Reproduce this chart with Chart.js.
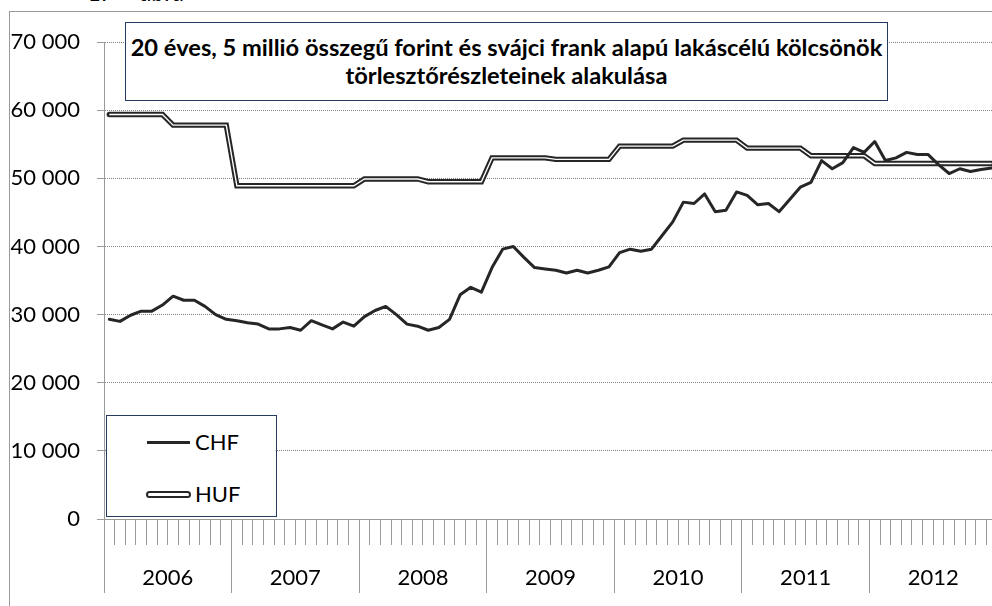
<!DOCTYPE html>
<html>
<head>
<meta charset="utf-8">
<script src="https://cdn.jsdelivr.net/npm/chart.js@4/dist/chart.umd.min.js"></script>
<style>
  html, body { margin:0; padding:0; background:#fff; overflow:hidden; width:992px; height:606px; }
  #wrap { position:relative; width:992px; height:606px; overflow:hidden; }
  #frame { position:absolute; left:9px; top:11px; width:1100px; height:700px; border-left:1px solid #9a9a9a; border-top:1px solid #9a9a9a; }
  #cv { position:absolute; left:0; top:0; }
  #fig { position:absolute; top:-20px; left:0; font-family:Lato; font-style:italic; font-size:24px; line-height:24px; color:#000; white-space:pre; }
  #fig span { position:absolute; top:0; }
  #title { position:absolute; left:125px; top:22px; width:761px; height:67px; border:1.5px solid #243a5e; background:#fff;
           font-family:Lato; font-weight:bold; color:#000; text-align:center; line-height:28px; padding-top:10px; box-sizing:content-box; white-space:nowrap; }
  #legend { position:absolute; left:106px; top:415px; width:169px; height:100px; border:1.5px solid #243a5e; background:#fff; }
  .li { position:absolute; left:0; width:169px; height:0; }
  .sw { position:absolute; left:40px; width:43px; }
  .lt { position:absolute; left:88px; font-family:Lato; font-size:22px; line-height:26px; top:-13px; color:#000; }
</style>
</head>
<body>
<div id="wrap">
  <div id="frame"></div>
  <div id="fig"><span style="left:88px">1.</span><span style="left:140px">ábra</span></div>
  <canvas id="cv" width="1000" height="606"></canvas>
  <div id="title"><div id="t1"></div><div id="t2"></div></div>
  <div id="legend"></div>
</div>
<script>
// ---- data ----
const years = ['2006','2007','2008','2009','2010','2011','2012'];
const monthNums = ['01','02','03','04','05','06','07','08','09','10','11','12'];
const titleLines = ['20 éves, 5 millió összegű forint és svájci frank alapú lakáscélú kölcsönök',
                    'törlesztőrészleteinek alakulása'];
const seriesNames = ['CHF', 'HUF'];
const chf = [
  29300, 29000, 29900, 30500, 30500, 31400, 32700, 32100, 32100, 31200, 30000, 29300,
  29100, 28800, 28600, 27900, 27900, 28100, 27700, 29100, 28500, 27900, 28900, 28300,
  29700, 30600, 31200, 30000, 28600, 28300, 27700, 28100, 29300, 32900, 34000, 33300,
  36900, 39600, 40000, 38400, 36900, 36700, 36500, 36100, 36500, 36100, 36500, 37000,
  39100, 39600, 39300, 39600, 41600, 43600, 46500, 46300, 47700, 45100, 45300, 48000,
  47500, 46100, 46300, 45100, 46900, 48700, 49400, 52600, 51400, 52300, 54500, 53800,
  55400, 52600, 53000, 53800, 53500, 53500, 52000, 50700, 51400, 51000, 51300, 51500
];
const huf = [
  59350, 59350, 59350, 59350, 59350, 59350, 57800, 57800, 57800, 57800, 57800, 57800,
  48900, 48900, 48900, 48900, 48900, 48900, 48900, 48900, 48900, 48900, 48900, 48900,
  49900, 49900, 49900, 49900, 49900, 49900, 49500, 49500, 49500, 49500, 49500, 49500,
  53000, 53000, 53000, 53000, 53000, 53000, 52770, 52770, 52770, 52770, 52770, 52770,
  54720, 54720, 54720, 54720, 54720, 54720, 55600, 55600, 55600, 55600, 55600, 55600,
  54430, 54430, 54430, 54430, 54430, 54430, 53300, 53300, 53300, 53300, 53300, 53300,
  52180, 52180, 52180, 52180, 52180, 52180, 52180, 52180, 52180, 52180, 52180, 52180
];
const yTicks = [0, 10000, 20000, 30000, 40000, 50000, 60000, 70000];

const months = [];
years.forEach(y => monthNums.forEach(m => months.push(y + '-' + m)));

const fmt = v => String(v).replace(/\B(?=(\d{3})+(?!\d))/g, ' ');
const dark = '#262626';
const axisGrey = '#9a9a9a';

// ---- title (fit line 1 to box) ----
(function(){
  const c = document.createElement('canvas').getContext('2d');
  c.font = 'bold 20px Lato';
  const w = c.measureText(titleLines[0]).width;
  const size = Math.min(24, 20 * 752 / w);
  const t = document.getElementById('title');
  t.style.fontSize = size.toFixed(2) + 'px';
  document.getElementById('t1').textContent = titleLines[0];
  document.getElementById('t2').textContent = titleLines[1];
})();

// ---- legend ----
(function(){
  const lg = document.getElementById('legend');
  const ys = [26, 78];
  seriesNames.forEach((name, i) => {
    const li = document.createElement('div');
    li.className = 'li';
    li.style.top = ys[i] + 'px';
    const sw = document.createElement('div');
    sw.className = 'sw';
    if (i === 0) {
      sw.style.cssText += 'height:3px;top:-1.5px;background:' + dark + ';';
    } else {
      sw.style.cssText += 'height:3px;top:-3.5px;border:2px solid ' + dark + ';border-radius:4px;background:#fff;left:39px;width:41px;';
    }
    const lt = document.createElement('div');
    lt.className = 'lt';
    lt.textContent = name;
    li.appendChild(sw); li.appendChild(lt);
    lg.appendChild(li);
  });
})();

// ---- chart ----
function build(){
new Chart(document.getElementById('cv').getContext('2d'), {
  type: 'line',
  data: {
    labels: months,
    datasets: [
      { label: seriesNames[0], data: chf, borderColor: dark, borderWidth: 3, pointRadius: 0, tension: 0, order: 0, borderJoinStyle: 'round', borderCapStyle: 'round' },
      { label: seriesNames[1], data: huf, borderColor: '#ffffff', borderWidth: 1.4, pointRadius: 0, tension: 0, order: 1 },
      { label: seriesNames[1], data: huf, borderColor: dark, borderWidth: 5.4, pointRadius: 0, tension: 0, order: 2, borderCapStyle: 'round' }
    ]
  },
  options: {
    responsive: false,
    animation: false,
    events: [],
    layout: { padding: { top: 42, left: 0, right: 3, bottom: 0 } },
    plugins: { legend: { display: false }, title: { display: false }, tooltip: { enabled: false } },
    scales: {
      y: {
        min: 0, max: 70000,
        afterFit(s) { s.width = 104; },
        afterBuildTicks(s) { s.ticks = yTicks.map(v => ({ value: v })); },
        ticks: { callback: v => fmt(v), font: { family: 'Lato', size: 22 }, color: '#000', padding: 17 },
        grid: { color: '#808080', lineWidth: 1, tickLength: 7, tickColor: axisGrey, drawTicks: true },
        border: { display: true, color: axisGrey, width: 1, dash: [1, 1] }
      },
      x: {
        type: 'category', offset: true, position: { y: 0 },
        grid: { offset: true, drawOnChartArea: false, tickLength: 25, color: axisGrey, lineWidth: 1 },
        ticks: { display: false },
        border: { display: true, color: axisGrey, width: 1 }
      },
      xYear: {
        type: 'category', labels: years, offset: true, position: 'bottom',
        afterFit(s) { s.height = 87; },
        grid: { offset: true, drawOnChartArea: false, tickLength: 74, color: axisGrey, lineWidth: 1 },
        ticks: { font: { family: 'Lato', size: 22 }, color: '#000', padding: -28, maxRotation: 0, autoSkip: false },
        border: { display: true, color: axisGrey, width: 1 }
      }
    }
  }
});
}
if (document.fonts && document.fonts.load) {
  Promise.all([document.fonts.load('22px Lato'), document.fonts.load('bold 20px Lato')]).then(build, build);
} else build();
</script>
</body>
</html>
